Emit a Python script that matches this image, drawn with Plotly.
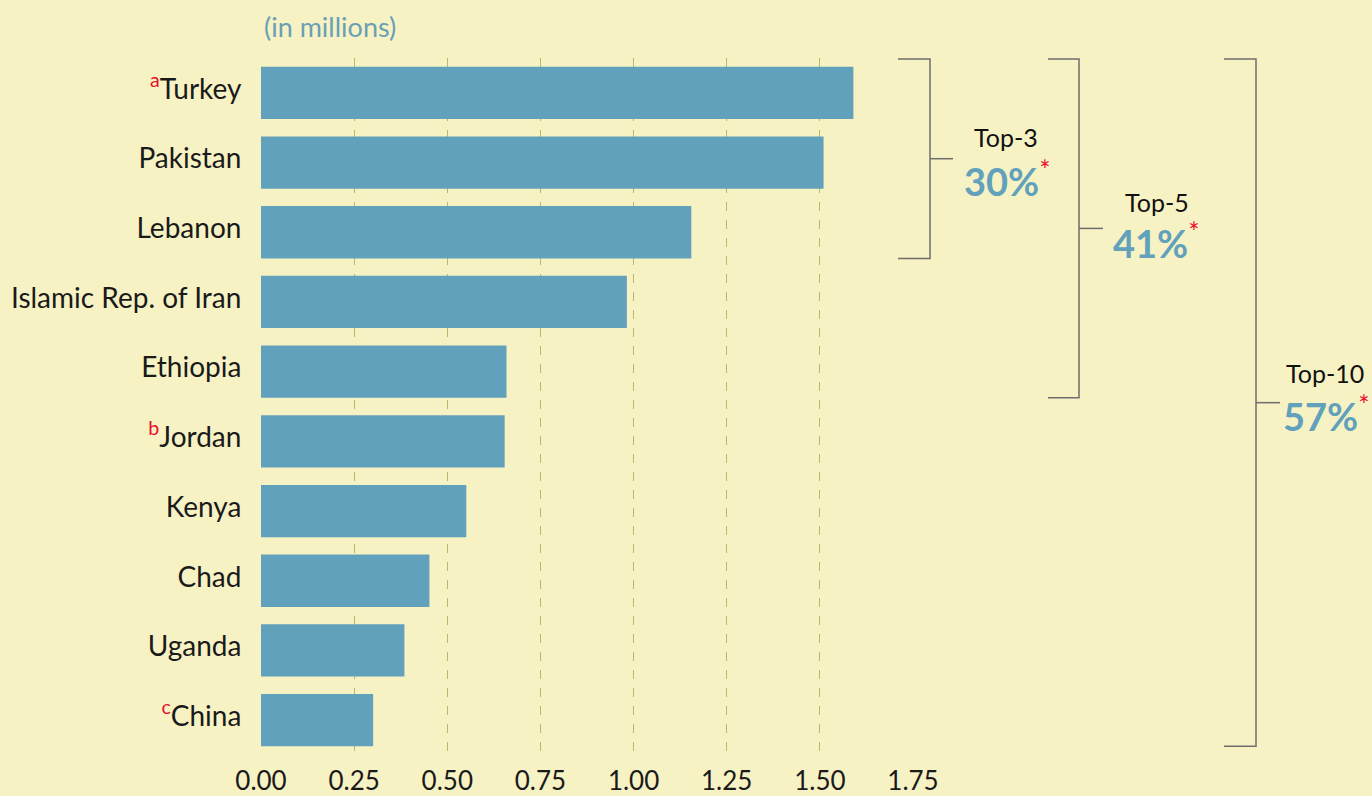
import plotly.graph_objects as go

countries = ["Turkey", "Pakistan", "Lebanon", "Islamic Rep. of Iran", "Ethiopia",
             "Jordan", "Kenya", "Chad", "Uganda", "China"]
footnotes = ["a", "", "", "", "", "b", "", "", "", "c"]
refugees_millions = [1.59, 1.51, 1.155, 0.982, 0.659, 0.654, 0.551, 0.452, 0.385, 0.301]
x_ticks = [0, 0.25, 0.5, 0.75, 1.0, 1.25, 1.5, 1.75]
x_tick_labels = ["0.00", "0.25", "0.50", "0.75", "1.00", "1.25", "1.50", "1.75"]
group_labels = ["Top-3", "Top-5", "Top-10"]
group_sizes = [3, 5, 10]
group_shares = ["30%", "41%", "57%"]

BG = "#F7F2C4"
BAR = "#62A1BC"
GRID = "#B5BA6C"
RED = "#E8112D"
GRAY = "#6E6E6E"
FONT = "Lato"

W, H = 1372, 796
L, R, T, B = 261, 913, 58, 755

def px_x(px):
    return (px - L) / (R - L)

def px_y(py):
    return (B - py) / (B - T)

def cat_y(v):
    return (9.5 - v) / 10.0

labels = []
for c, f in zip(countries, footnotes):
    if f:
        labels.append(f"<span style='color:{RED}'><sup>{f}</sup></span>{c}")
    else:
        labels.append(c)

fig = go.Figure(go.Bar(
    x=refugees_millions, y=labels, orientation="h",
    marker=dict(color=BAR, line=dict(width=0)),
    hoverinfo="x+y",
))

fig.update_layout(
    width=W, height=H,
    margin=dict(l=L, r=W - R, t=T, b=H - B, autoexpand=False),
    paper_bgcolor=BG, plot_bgcolor=BG,
    bargap=0.25,
    showlegend=False,
    font=dict(family=FONT, size=26, color="#1a1a1a"),
    xaxis=dict(range=[0, 1.75], tickvals=x_ticks, ticktext=x_tick_labels,
               showgrid=True, gridcolor=GRID, griddash="dash", gridwidth=1,
               zeroline=False, showline=False, ticks="", ticklabelstandoff=8,
               automargin=False, tickfont=dict(size=26, family=FONT)),
    yaxis=dict(categoryorder="array", categoryarray=labels, range=[9.5, -0.5],
               showgrid=False, zeroline=False, showline=False,
               ticks="outside", ticklen=13, tickcolor=BG, automargin=False,
               ticklabelshift=4,
               tickfont=dict(size=28, family=FONT)),
)

# units label
fig.add_annotation(xref="paper", yref="paper", x=px_x(262), y=px_y(26),
                   xanchor="left", yanchor="middle", showarrow=False,
                   text="(in millions)", font=dict(size=27, color="#6A9FB5", family=FONT))

bracket_x = [(898, 930, 953), (1048, 1079, 1103), (1224, 1256, 1280)]
label_pos = [(1006, 137, 1007, 179), (1157, 202, 1156, 241), (1325, 373, 1326, 414)]

for (x0, x1, x2), n, gl, share, (lx, ly, sx, sy) in zip(bracket_x, group_sizes, group_labels,
                                                         group_shares, label_pos):
    y_top = cat_y(-0.5) - 0.0015
    y_bot = cat_y(n - 1 + 0.375)
    y_mid = (y_top + y_bot) / 2
    line = dict(color=GRAY, width=1.5)
    fig.add_shape(type="path", xref="paper", yref="paper",
                  path=f"M {px_x(x0)} {y_top} L {px_x(x1)} {y_top} L {px_x(x1)} {y_bot} L {px_x(x0)} {y_bot}",
                  line=line)
    fig.add_shape(type="line", xref="paper", yref="paper",
                  x0=px_x(x1), x1=px_x(x2), y0=y_mid, y1=y_mid, line=line)
    fig.add_annotation(xref="paper", yref="paper", x=px_x(lx), y=px_y(ly),
                       xanchor="center", yanchor="middle", showarrow=False,
                       text=gl, font=dict(size=25, color="#111111", family=FONT))
    fig.add_annotation(xref="paper", yref="paper", x=px_x(sx), y=px_y(sy),
                       xanchor="center", yanchor="middle", showarrow=False,
                       text=f"<b>{share}</b><span style='color:{RED}'><sup>*</sup></span>",
                       font=dict(size=38, color=BAR, family=FONT))

fig.write_html("out.html", config={"displayModeBar": False},
               post_script="document.body.style.margin='0';document.body.style.padding='0';document.body.style.overflow='hidden';")
